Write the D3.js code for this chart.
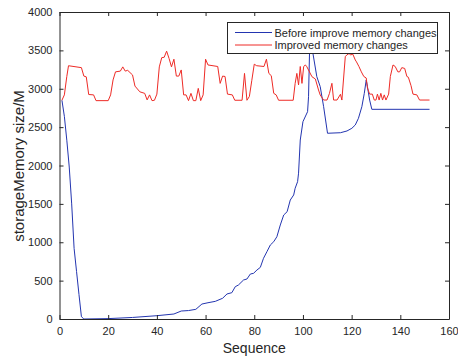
<!DOCTYPE html>
<html lang="en">
<head>
    <meta charset="UTF-8">
    <title>Memory changes</title>
    <script src="https://cdn.jsdelivr.net/npm/d3@7/dist/d3.min.js" charset="utf-8"></script>
    <style>
        body { margin: 0; background: #fff; }
        text { font-family: "Liberation Sans", Arial, Helvetica, sans-serif; fill: #262626; }
    </style>
</head>
<body>
<script>
    // data: [sequence, size]
    var beforeSeq = [1, 2, 3, 4, 5, 6, 7, 8, 9, 10, 20, 30, 40, 47, 50, 53, 56, 58.5, 61, 64, 67, 68.8, 70.8,
        72.2, 73.5, 75.6, 77, 78.4, 79.7, 81.1, 82.5, 83.8, 85.2, 86.6, 88, 89.3, 90.7, 92.1, 93.5, 94.8, 96.2,
        96.8, 97.8, 98.2, 98.9, 100, 101.9, 102.3, 102.7, 103.3, 104.1, 105.7, 107.1, 108.5, 110.1, 115.4,
        118.1, 120.1, 121.5, 122.8, 124.2, 125.2, 126, 126.5, 127.4, 128.3, 152];
    var beforeVal = [2850, 2640, 2330, 1980, 1500, 920, 620, 320, 30, 0, 5, 20, 43, 65, 104, 110, 126, 195, 212, 230,
        270, 326, 343, 421, 443, 508, 521, 586, 595, 638, 673, 791, 877, 964, 1007, 1072, 1225, 1355, 1398, 1550,
        1616, 1703, 1789, 1900, 2332, 2571, 2701, 2896, 3462, 3750, 3462, 3157, 3027, 2766, 2420, 2427,
        2450, 2485, 2528, 2615, 2766, 2940, 3114, 3027, 2853, 2732, 2732];

    var improvedSeq = [1, 2, 3, 3.7, 9, 10, 11, 12, 14, 15, 20, 21, 22, 23, 25, 26, 27, 28, 30, 31, 33, 35, 36, 37,
        38, 39, 40, 41, 42, 43, 44, 45, 46, 47, 48, 49, 50, 51, 52, 53, 54, 55, 56, 57, 58, 59, 60, 61, 65, 66,
        67, 68, 69, 71, 72, 75, 76, 77, 78, 79, 80, 81, 84, 85, 86, 87, 88, 89, 90, 96, 96.8, 97.5, 98.2, 98.9,
        99.6, 100.3, 101, 101.6, 103.7, 105.1, 106.4, 107.1, 108.5, 109.9, 110.9, 111.9, 112.6, 114, 115.4, 116,
        117.4, 118, 119, 119.5, 120.5, 121.5, 122, 123, 124, 125, 126, 126.5, 127.4, 128.5, 129.3, 130, 130.6,
        131.3, 132, 132.7, 133.4, 134.1, 135.2, 135.9, 137, 137.9, 139, 139.7, 140.6, 141.8, 142.7, 143.3, 144.4,
        145.2, 146.8, 147.9, 152];
    var improvedVal = [2850, 2920, 3160, 3300, 3275, 3165, 3155, 2925, 2920, 2845, 2845, 2920, 3115, 3220, 3230,
        3285, 3230, 3240, 3180, 3035, 2960, 2940, 2855, 2920, 2845, 2850, 2930, 3285, 3405, 3410, 3490, 3395, 3285,
        3385, 3165, 3165, 3245, 2920, 2920, 2845, 2940, 2845, 2845, 3005, 2845, 2920, 3385, 3310, 3290, 3070,
        3165, 3160, 2930, 2920, 2850, 2850, 3200, 2850, 2900, 3110, 3320, 3300, 3290, 3385, 3200, 3170, 2940,
        2920, 2850, 2850, 3070, 3200, 3050, 3290, 3070, 3290, 3310, 3287, 3157, 3127, 2984, 2918, 2853, 2853,
        2940, 3071, 2853, 2853, 2928, 2853, 3418, 3440, 3460, 3440, 3450, 3375, 3350, 3290, 3220, 3160, 3140,
        3010, 2930, 2930, 2853, 2853, 2930, 2853, 2940, 2853, 2920, 2853, 2930, 3160, 3310, 3290, 3220, 3220,
        3275, 3265, 3160, 3150, 3040, 2930, 2920, 2853, 2853];

    var xTicks = [0, 20, 40, 60, 80, 100, 120, 140, 160];
    var yTicks = [0, 500, 1000, 1500, 2000, 2500, 3000, 3500, 4000];
    var legendNames = ["Before improve memory changes", "Improved memory changes"];
    var colors = ["#2335b0", "#ee2b26"];

    // canvas
    var width = 458;
    var height = 356;
    var padLeft = 59.5, padTop = 12, padRight = 449, padBottom = 319;

    var svg = d3.select("body")
        .append("svg")
        .attr("width", width)
        .attr("height", height);

    var x = d3.scaleLinear().domain([0, 160]).range([padLeft, padRight]);
    var y = d3.scaleLinear().domain([0, 4000]).range([padBottom, padTop]);

    // series lines
    function toPoints(s, v) {
        return s.map(function (d, i) { return [d, v[i]]; });
    }
    var line = d3.line()
        .x(function (d) { return x(d[0]); })
        .y(function (d) { return y(d[1]); });

    var series = [toPoints(beforeSeq, beforeVal), toPoints(improvedSeq, improvedVal)];
    svg.selectAll("path.series")
        .data(series)
        .enter()
        .append("path")
        .attr("class", "series")
        .attr("d", line)
        .attr("fill", "none")
        .attr("stroke", function (d, i) { return colors[i]; })
        .attr("stroke-width", 1);

    // axes, ticks pointing inward, box on all sides
    var axisColor = "#262626";
    var gx = svg.append("g")
        .attr("transform", "translate(0," + padBottom + ")")
        .call(d3.axisBottom(x).tickValues(xTicks).tickSizeInner(-4).tickSizeOuter(0).tickPadding(8));
    var gxTop = svg.append("g")
        .attr("transform", "translate(0," + padTop + ")")
        .call(d3.axisTop(x).tickValues(xTicks).tickSizeInner(-4).tickSizeOuter(0).tickFormat(""));
    var gy = svg.append("g")
        .attr("transform", "translate(" + padLeft + ",0)")
        .call(d3.axisLeft(y).tickValues(yTicks).tickFormat(d3.format("d"))
            .tickSizeInner(-4).tickSizeOuter(0).tickPadding(7));
    var gyRight = svg.append("g")
        .attr("transform", "translate(" + padRight + ",0)")
        .call(d3.axisRight(y).tickValues(yTicks).tickSizeInner(-4).tickSizeOuter(0).tickFormat(""));

    [gx, gxTop, gy, gyRight].forEach(function (g) {
        g.selectAll("path").attr("stroke", axisColor).attr("stroke-width", 1);
        g.selectAll("line").attr("stroke", axisColor);
        g.selectAll("text").style("font-size", "11px").attr("fill", axisColor)
            .style("font-family", "'Liberation Sans', Arial, sans-serif");
    });

    // axis titles
    svg.append("text")
        .attr("x", (padLeft + padRight) / 2)
        .attr("y", 353)
        .attr("text-anchor", "middle")
        .style("font-size", "14px")
        .text("Sequence");
    svg.append("text")
        .attr("transform", "translate(23.5,166) rotate(-90)")
        .attr("text-anchor", "middle")
        .style("font-size", "15px")
        .text("storageMemory size/M");

    // legend
    var lg = svg.append("g");
    lg.append("rect")
        .attr("x", 227.5)
        .attr("y", 22.5)
        .attr("width", 210)
        .attr("height", 31)
        .attr("fill", "#fff")
        .attr("stroke", axisColor)
        .attr("stroke-width", 1);
    legendNames.forEach(function (name, i) {
        var ly = 32.5 + i * 12.5;
        lg.append("line")
            .attr("x1", 235).attr("x2", 272)
            .attr("y1", ly).attr("y2", ly)
            .attr("stroke", colors[i])
            .attr("stroke-width", 1);
        lg.append("text")
            .attr("x", 274.5)
            .attr("y", ly + 4)
            .style("font-size", "11px")
            .text(name);
    });
</script>
</body>
</html>
